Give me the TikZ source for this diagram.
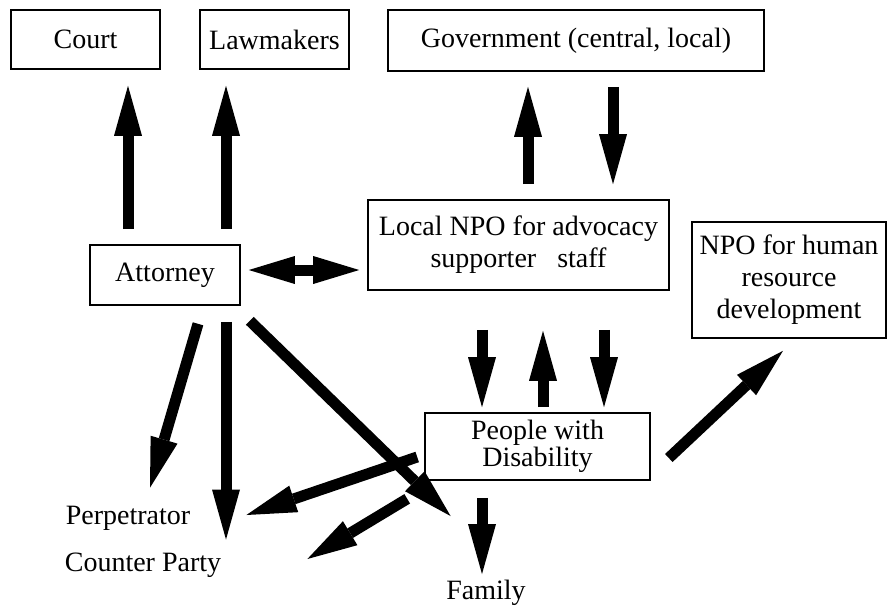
\documentclass[tikz,border=0pt]{standalone}
\usepackage{fontspec}
\setmainfont{Liberation Serif}
\usetikzlibrary{arrows.meta}
\newcommand\bodyfont{\fontsize{28}{32}\selectfont}
\begin{document}
\begin{tikzpicture}[x=1pt,y=-1pt,
    box/.style={draw,line width=1.6pt,inner sep=0pt,align=center,font=\bodyfont},
    freetext/.style={inner sep=0pt,font=\bodyfont},
    bigarrow/.style={line width=11pt,-{Triangle[length=50pt,width=28pt,line width=0pt]}},
    dblarrow/.style={line width=11pt,{Triangle[length=46pt,width=28pt,line width=0pt]}-{Triangle[length=46pt,width=28pt,line width=0pt]}}]
  \useasboundingbox (0,0) rectangle (888,606);
  % boxes
  \node[box,minimum width=149pt,minimum height=59pt] (court) at (85.5,39.5) {Court};
  \node[box,minimum width=149pt,minimum height=59pt] (lawmakers) at (274.5,39.5) {Lawmakers};
  \node[box,minimum width=376pt,minimum height=61pt] (govt) at (576,40.5) {Government (central, local)};
  \node[box,minimum width=150pt,minimum height=60pt] (attorney) at (165,275) {Attorney};
  \node[box,minimum width=301pt,minimum height=90pt] (localnpo) at (518.5,245)
    {Local NPO for advocacy\\supporter\ \ \ staff};
  \node[box,minimum width=194pt,minimum height=116pt] (hrnpo) at (789,280)
    {NPO for human\\resource\\development};
  \node[box,minimum width=225pt,minimum height=67pt] (pwd) at (537.5,446.5)
    {People with\\[-5pt]Disability};
  % plain labels
  \node[freetext] (perp) at (128,518) {Perpetrator};
  \node[freetext] (counter) at (143,565) {Counter Party};
  \node[freetext] (family) at (486,593) {Family};
  % attorney up
  \draw[bigarrow] ([xshift=-37pt,yshift=15pt]attorney.north) -- ([xshift=42.5pt,yshift=-16pt]court.south);
  \draw[bigarrow] ([xshift=61pt,yshift=15pt]attorney.north) -- ([xshift=-48.5pt,yshift=-16pt]lawmakers.south);
  % government
  \draw[bigarrow] ([xshift=9.5pt,yshift=15pt]localnpo.north) -- ([xshift=-48pt,yshift=-15pt]govt.south);
  \draw[bigarrow] ([xshift=37pt,yshift=-15pt]govt.south) -- ([xshift=94.5pt,yshift=15pt]localnpo.north);
  \draw[dblarrow] ([xshift=8pt,yshift=5pt]attorney.east) -- ([xshift=-8pt,yshift=-25pt]localnpo.west);
  % npo and people with disability
  \draw[bigarrow] ([xshift=-36.5pt,yshift=-39pt]localnpo.south) -- ([xshift=-55.5pt,yshift=5pt]pwd.north);
  \draw[bigarrow] ([xshift=5.5pt,yshift=5pt]pwd.north) -- ([xshift=24.5pt,yshift=-40pt]localnpo.south);
  \draw[bigarrow] ([xshift=85.5pt,yshift=-39pt]localnpo.south) -- ([xshift=66.5pt,yshift=5pt]pwd.north);
  \draw[bigarrow] ([xshift=18pt,yshift=-11.5pt]pwd.east) -- ([xshift=-6pt,yshift=-12pt]hrnpo.south);
  % attorney down
  \draw[bigarrow] ([xshift=33pt,yshift=-18pt]attorney.south) -- ([xshift=22pt,yshift=18pt]perp.north);
  \draw[bigarrow] ([xshift=61pt,yshift=-16pt]attorney.south) -- ([xshift=83pt,yshift=13pt]counter.north);
  \draw[bigarrow] ([xshift=9pt,yshift=-15pt]attorney.south east) -- ([xshift=4.5pt,yshift=64pt]family.north west);
  % people with disability down
  \draw[bigarrow] ([xshift=-7pt,yshift=-10.5pt]pwd.west) -- ([xshift=56pt,yshift=3pt]perp.east);
  \draw[bigarrow] ([xshift=-17pt,yshift=-18pt]pwd.south west) -- ([xshift=86pt,yshift=6pt]counter.east);
  \draw[bigarrow] ([xshift=-55.5pt,yshift=-17pt]pwd.south) -- ([xshift=-4pt,yshift=6pt]family.north);
\end{tikzpicture}
\end{document}
